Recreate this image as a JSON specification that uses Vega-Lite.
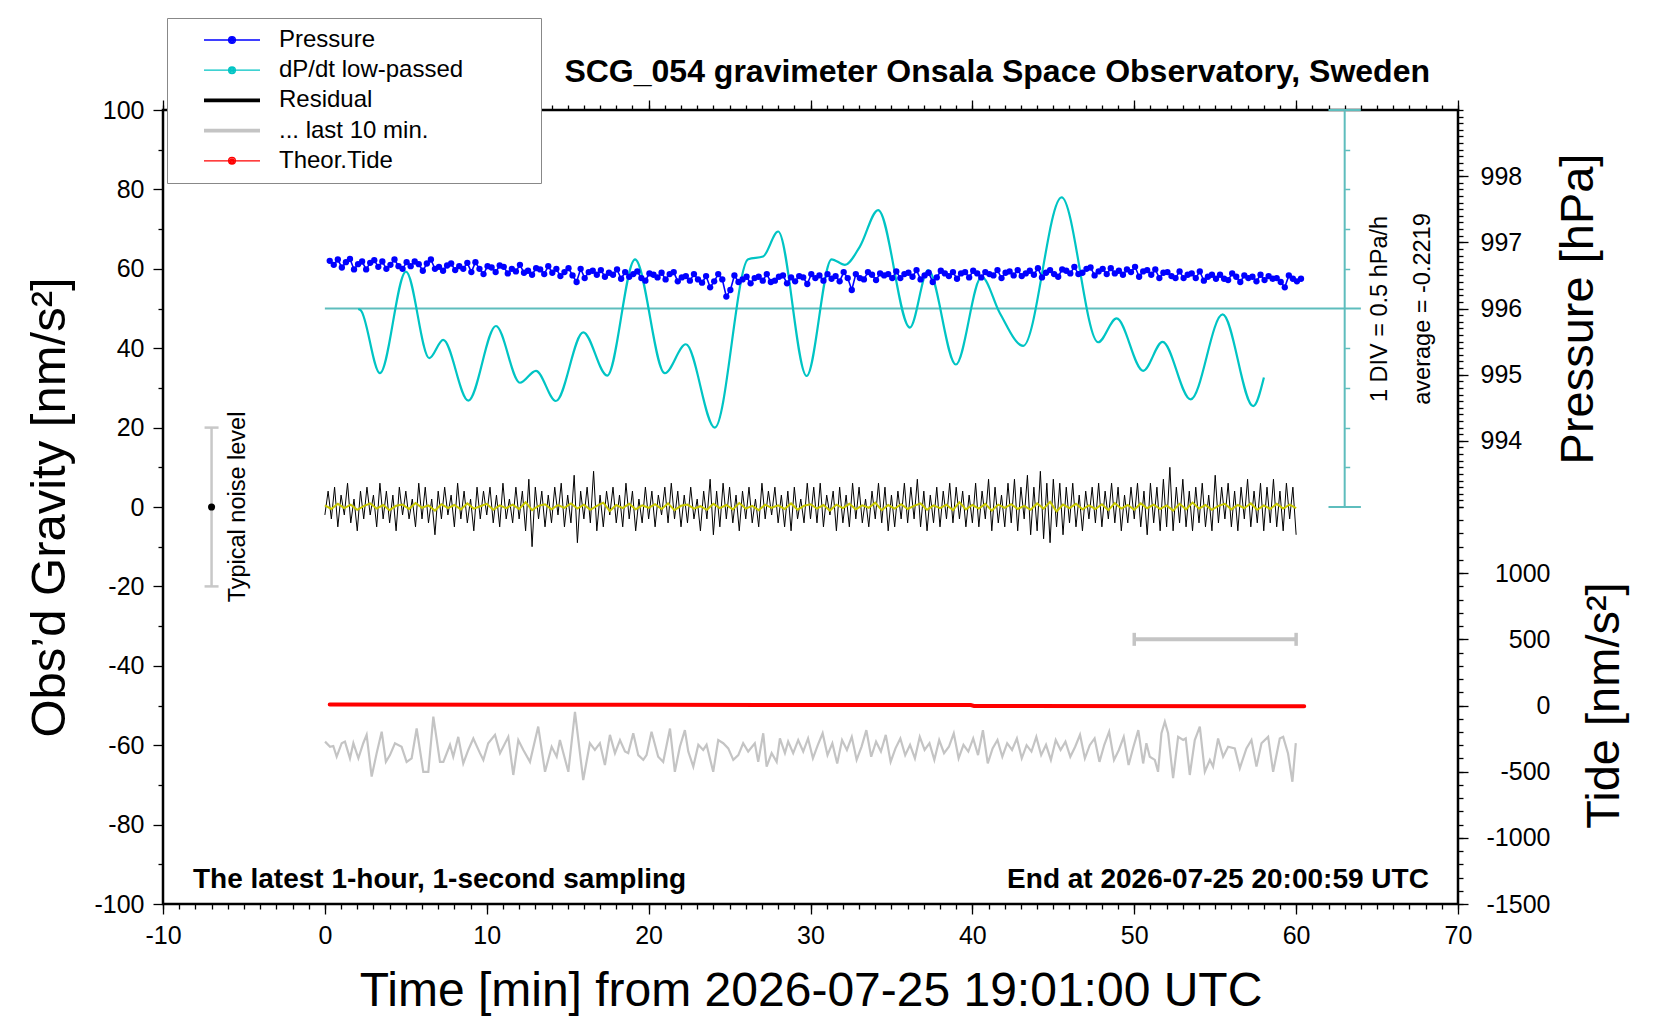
{
  "$schema": "https://vega.github.io/schema/vega-lite/v6.json",
  "width": 1295,
  "height": 794,
  "autosize": {"type": "none"},
  "padding": {"left": 163, "top": 110, "right": 202, "bottom": 116},
  "background": "white",
  "title": {
    "text": "SCG_054 gravimeter Onsala Space Observatory, Sweden",
    "anchor": "end",
    "frame": "group",
    "dx": -28,
    "offset": -96,
    "baseline": "alphabetic",
    "font": "Liberation Sans",
    "fontSize": 32,
    "fontWeight": "bold",
    "color": "black"
  },
  "datasets": {
    "pressure": [
      {"t":0.3,"p":996.72},{"t":0.55,"p":996.66},{"t":0.8,"p":996.74},{"t":1.05,"p":996.62},{"t":1.3,"p":996.70},{"t":1.55,"p":996.75},{"t":1.8,"p":996.59},{"t":2.05,"p":996.67},{"t":2.3,"p":996.71},{"t":2.55,"p":996.59},
      {"t":2.8,"p":996.69},{"t":3.05,"p":996.73},{"t":3.3,"p":996.63},{"t":3.55,"p":996.71},{"t":3.8,"p":996.60},{"t":4.05,"p":996.66},{"t":4.3,"p":996.74},{"t":4.55,"p":996.64},{"t":4.8,"p":996.60},{"t":5.05,"p":996.70},
      {"t":5.3,"p":996.64},{"t":5.55,"p":996.71},{"t":5.8,"p":996.67},{"t":6.05,"p":996.57},{"t":6.3,"p":996.68},{"t":6.55,"p":996.74},{"t":6.8,"p":996.60},{"t":7.05,"p":996.63},{"t":7.3,"p":996.57},{"t":7.55,"p":996.65},
      {"t":7.8,"p":996.68},{"t":8.05,"p":996.58},{"t":8.3,"p":996.64},{"t":8.55,"p":996.60},{"t":8.8,"p":996.69},{"t":9.05,"p":996.55},{"t":9.3,"p":996.70},{"t":9.55,"p":996.60},{"t":9.8,"p":996.52},{"t":10.05,"p":996.64},
      {"t":10.3,"p":996.62},{"t":10.55,"p":996.55},{"t":10.8,"p":996.65},{"t":11.05,"p":996.63},{"t":11.3,"p":996.53},{"t":11.55,"p":996.60},{"t":11.8,"p":996.56},{"t":12.05,"p":996.66},{"t":12.3,"p":996.54},{"t":12.55,"p":996.57},
      {"t":12.8,"p":996.51},{"t":13.05,"p":996.61},{"t":13.3,"p":996.59},{"t":13.55,"p":996.52},{"t":13.8,"p":996.64},{"t":14.05,"p":996.54},{"t":14.3,"p":996.60},{"t":14.55,"p":996.49},{"t":14.8,"p":996.55},{"t":15.05,"p":996.61},
      {"t":15.3,"p":996.50},{"t":15.55,"p":996.40},{"t":15.8,"p":996.60},{"t":16.05,"p":996.46},{"t":16.3,"p":996.55},{"t":16.55,"p":996.57},{"t":16.8,"p":996.51},{"t":17.05,"p":996.58},{"t":17.3,"p":996.48},{"t":17.55,"p":996.54},
      {"t":17.8,"p":996.51},{"t":18.05,"p":996.59},{"t":18.3,"p":996.45},{"t":18.55,"p":996.55},{"t":18.8,"p":996.48},{"t":19.05,"p":996.52},{"t":19.3,"p":996.56},{"t":19.55,"p":996.46},{"t":19.8,"p":996.42},{"t":20.05,"p":996.53},
      {"t":20.3,"p":996.51},{"t":20.55,"p":996.47},{"t":20.8,"p":996.54},{"t":21.05,"p":996.44},{"t":21.3,"p":996.52},{"t":21.55,"p":996.55},{"t":21.8,"p":996.41},{"t":22.05,"p":996.47},{"t":22.3,"p":996.49},{"t":22.55,"p":996.42},
      {"t":22.8,"p":996.52},{"t":23.05,"p":996.44},{"t":23.3,"p":996.39},{"t":23.55,"p":996.49},{"t":23.8,"p":996.32},{"t":24.05,"p":996.41},{"t":24.3,"p":996.52},{"t":24.55,"p":996.44},{"t":24.8,"p":996.18},{"t":25.05,"p":996.28},
      {"t":25.3,"p":996.50},{"t":25.55,"p":996.40},{"t":25.8,"p":996.44},{"t":26.05,"p":996.48},{"t":26.3,"p":996.38},{"t":26.55,"p":996.46},{"t":26.8,"p":996.48},{"t":27.05,"p":996.42},{"t":27.3,"p":996.52},{"t":27.55,"p":996.40},
      {"t":27.8,"p":996.42},{"t":28.05,"p":996.48},{"t":28.3,"p":996.50},{"t":28.55,"p":996.38},{"t":28.8,"p":996.47},{"t":29.05,"p":996.41},{"t":29.3,"p":996.49},{"t":29.55,"p":996.47},{"t":29.8,"p":996.37},{"t":30.05,"p":996.52},
      {"t":30.3,"p":996.46},{"t":30.55,"p":996.50},{"t":30.8,"p":996.42},{"t":31.05,"p":996.52},{"t":31.3,"p":996.45},{"t":31.55,"p":996.49},{"t":31.8,"p":996.41},{"t":32.05,"p":996.55},{"t":32.3,"p":996.46},{"t":32.55,"p":996.28},
      {"t":32.8,"p":996.52},{"t":33.05,"p":996.46},{"t":33.3,"p":996.44},{"t":33.55,"p":996.55},{"t":33.8,"p":996.51},{"t":34.05,"p":996.43},{"t":34.3,"p":996.53},{"t":34.55,"p":996.50},{"t":34.8,"p":996.52},{"t":35.05,"p":996.46},
      {"t":35.3,"p":996.56},{"t":35.55,"p":996.46},{"t":35.8,"p":996.52},{"t":36.05,"p":996.54},{"t":36.3,"p":996.48},{"t":36.55,"p":996.58},{"t":36.8,"p":996.44},{"t":37.05,"p":996.50},{"t":37.3,"p":996.54},{"t":37.55,"p":996.40},
      {"t":37.8,"p":996.47},{"t":38.05,"p":996.57},{"t":38.3,"p":996.53},{"t":38.55,"p":996.49},{"t":38.8,"p":996.55},{"t":39.05,"p":996.45},{"t":39.3,"p":996.53},{"t":39.55,"p":996.55},{"t":39.8,"p":996.47},{"t":40.05,"p":996.57},
      {"t":40.3,"p":996.53},{"t":40.55,"p":996.47},{"t":40.8,"p":996.55},{"t":41.05,"p":996.52},{"t":41.3,"p":996.50},{"t":41.55,"p":996.58},{"t":41.8,"p":996.46},{"t":42.05,"p":996.54},{"t":42.3,"p":996.56},{"t":42.55,"p":996.50},
      {"t":42.8,"p":996.58},{"t":43.05,"p":996.49},{"t":43.3,"p":996.53},{"t":43.55,"p":996.57},{"t":43.8,"p":996.51},{"t":44.05,"p":996.61},{"t":44.3,"p":996.47},{"t":44.55,"p":996.54},{"t":44.8,"p":996.58},{"t":45.05,"p":996.52},
      {"t":45.3,"p":996.48},{"t":45.55,"p":996.59},{"t":45.8,"p":996.57},{"t":46.05,"p":996.53},{"t":46.3,"p":996.63},{"t":46.55,"p":996.52},{"t":46.8,"p":996.54},{"t":47.05,"p":996.60},{"t":47.3,"p":996.62},{"t":47.55,"p":996.50},
      {"t":47.8,"p":996.56},{"t":48.05,"p":996.60},{"t":48.3,"p":996.52},{"t":48.55,"p":996.61},{"t":48.8,"p":996.53},{"t":49.05,"p":996.57},{"t":49.3,"p":996.51},{"t":49.55,"p":996.59},{"t":49.8,"p":996.55},{"t":50.05,"p":996.63},
      {"t":50.3,"p":996.48},{"t":50.55,"p":996.56},{"t":50.8,"p":996.58},{"t":51.05,"p":996.51},{"t":51.3,"p":996.59},{"t":51.55,"p":996.46},{"t":51.8,"p":996.54},{"t":52.05,"p":996.55},{"t":52.3,"p":996.49},{"t":52.55,"p":996.46},
      {"t":52.8,"p":996.56},{"t":53.05,"p":996.46},{"t":53.3,"p":996.51},{"t":53.55,"p":996.53},{"t":53.8,"p":996.46},{"t":54.05,"p":996.56},{"t":54.3,"p":996.42},{"t":54.55,"p":996.48},{"t":54.8,"p":996.51},{"t":55.05,"p":996.45},
      {"t":55.3,"p":996.51},{"t":55.55,"p":996.45},{"t":55.8,"p":996.43},{"t":56.05,"p":996.53},{"t":56.3,"p":996.48},{"t":56.55,"p":996.40},{"t":56.8,"p":996.50},{"t":57.05,"p":996.46},{"t":57.3,"p":996.48},{"t":57.55,"p":996.41},
      {"t":57.8,"p":996.51},{"t":58.05,"p":996.43},{"t":58.3,"p":996.49},{"t":58.55,"p":996.45},{"t":58.8,"p":996.46},{"t":59.05,"p":996.40},{"t":59.3,"p":996.32},{"t":59.55,"p":996.50},{"t":59.8,"p":996.45},{"t":60.05,"p":996.41},
      {"t":60.3,"p":996.45}
    ],
    "residual": [
      {"t":0.0,"g":-2},{"t":0.2,"g":4},{"t":0.4,"g":-3},{"t":0.6,"g":5},{"t":0.8,"g":-5},{"t":1.0,"g":3},{"t":1.2,"g":-2},{"t":1.4,"g":6},{"t":1.6,"g":-4},{"t":1.8,"g":2},
      {"t":2.0,"g":-6},{"t":2.2,"g":4},{"t":2.4,"g":-3},{"t":2.6,"g":5},{"t":2.8,"g":-2},{"t":3.0,"g":3},{"t":3.2,"g":-5},{"t":3.4,"g":6},{"t":3.6,"g":-3},{"t":3.8,"g":4},
      {"t":4.0,"g":-4},{"t":4.2,"g":3},{"t":4.4,"g":-6},{"t":4.6,"g":5},{"t":4.8,"g":-2},{"t":5.0,"g":4},{"t":5.2,"g":-3},{"t":5.4,"g":2},{"t":5.6,"g":-5},{"t":5.8,"g":6},
      {"t":6.0,"g":-3},{"t":6.2,"g":5},{"t":6.4,"g":-4},{"t":6.6,"g":2},{"t":6.8,"g":-7},{"t":7.0,"g":4},{"t":7.2,"g":-3},{"t":7.4,"g":5},{"t":7.6,"g":-2},{"t":7.8,"g":3},
      {"t":8.0,"g":-5},{"t":8.2,"g":6},{"t":8.4,"g":-3},{"t":8.6,"g":4},{"t":8.8,"g":-4},{"t":9.0,"g":2},{"t":9.2,"g":-6},{"t":9.4,"g":5},{"t":9.6,"g":-3},{"t":9.8,"g":4},
      {"t":10.0,"g":-2},{"t":10.2,"g":5},{"t":10.4,"g":-4},{"t":10.6,"g":3},{"t":10.8,"g":-5},{"t":11.0,"g":6},{"t":11.2,"g":-3},{"t":11.4,"g":2},{"t":11.6,"g":-4},{"t":11.8,"g":5},
      {"t":12.0,"g":-3},{"t":12.2,"g":4},{"t":12.4,"g":-6},{"t":12.6,"g":7},{"t":12.8,"g":-10},{"t":13.0,"g":5},{"t":13.2,"g":-3},{"t":13.4,"g":4},{"t":13.6,"g":-5},{"t":13.8,"g":3},
      {"t":14.0,"g":-4},{"t":14.2,"g":5},{"t":14.4,"g":-2},{"t":14.6,"g":6},{"t":14.8,"g":-5},{"t":15.0,"g":3},{"t":15.2,"g":-4},{"t":15.4,"g":8},{"t":15.6,"g":-9},{"t":15.8,"g":4},
      {"t":16.0,"g":-3},{"t":16.2,"g":5},{"t":16.4,"g":-4},{"t":16.6,"g":9},{"t":16.8,"g":-6},{"t":17.0,"g":3},{"t":17.2,"g":-5},{"t":17.4,"g":4},{"t":17.6,"g":-2},{"t":17.8,"g":5},
      {"t":18.0,"g":-4},{"t":18.2,"g":3},{"t":18.4,"g":-5},{"t":18.6,"g":6},{"t":18.8,"g":-3},{"t":19.0,"g":4},{"t":19.2,"g":-6},{"t":19.4,"g":2},{"t":19.6,"g":-4},{"t":19.8,"g":5},
      {"t":20.0,"g":-3},{"t":20.2,"g":4},{"t":20.4,"g":-5},{"t":20.6,"g":3},{"t":20.8,"g":-2},{"t":21.0,"g":5},{"t":21.2,"g":-4},{"t":21.4,"g":6},{"t":21.6,"g":-3},{"t":21.8,"g":4},
      {"t":22.0,"g":-5},{"t":22.2,"g":3},{"t":22.4,"g":-4},{"t":22.6,"g":5},{"t":22.8,"g":-3},{"t":23.0,"g":2},{"t":23.2,"g":-6},{"t":23.4,"g":4},{"t":23.6,"g":-3},{"t":23.8,"g":7},
      {"t":24.0,"g":-7},{"t":24.2,"g":4},{"t":24.4,"g":-5},{"t":24.6,"g":6},{"t":24.8,"g":-3},{"t":25.0,"g":5},{"t":25.2,"g":-4},{"t":25.4,"g":3},{"t":25.6,"g":-6},{"t":25.8,"g":4},
      {"t":26.0,"g":-3},{"t":26.2,"g":5},{"t":26.4,"g":-4},{"t":26.6,"g":2},{"t":26.8,"g":-5},{"t":27.0,"g":6},{"t":27.2,"g":-3},{"t":27.4,"g":4},{"t":27.6,"g":-2},{"t":27.8,"g":5},
      {"t":28.0,"g":-4},{"t":28.2,"g":3},{"t":28.4,"g":-5},{"t":28.6,"g":4},{"t":28.8,"g":-6},{"t":29.0,"g":5},{"t":29.2,"g":-3},{"t":29.4,"g":2},{"t":29.6,"g":-4},{"t":29.8,"g":6},
      {"t":30.0,"g":-3},{"t":30.2,"g":5},{"t":30.4,"g":-4},{"t":30.6,"g":6},{"t":30.8,"g":-5},{"t":31.0,"g":3},{"t":31.2,"g":-2},{"t":31.4,"g":4},{"t":31.6,"g":-6},{"t":31.8,"g":5},
      {"t":32.0,"g":-4},{"t":32.2,"g":3},{"t":32.4,"g":-5},{"t":32.6,"g":6},{"t":32.8,"g":-3},{"t":33.0,"g":5},{"t":33.2,"g":-4},{"t":33.4,"g":2},{"t":33.6,"g":-5},{"t":33.8,"g":4},
      {"t":34.0,"g":-3},{"t":34.2,"g":6},{"t":34.4,"g":-4},{"t":34.6,"g":5},{"t":34.8,"g":-6},{"t":35.0,"g":3},{"t":35.2,"g":-5},{"t":35.4,"g":4},{"t":35.6,"g":-3},{"t":35.8,"g":6},
      {"t":36.0,"g":-4},{"t":36.2,"g":5},{"t":36.4,"g":-3},{"t":36.6,"g":7},{"t":36.8,"g":-5},{"t":37.0,"g":4},{"t":37.2,"g":-6},{"t":37.4,"g":3},{"t":37.6,"g":-4},{"t":37.8,"g":5},
      {"t":38.0,"g":-5},{"t":38.2,"g":4},{"t":38.4,"g":-3},{"t":38.6,"g":6},{"t":38.8,"g":-4},{"t":39.0,"g":5},{"t":39.2,"g":-3},{"t":39.4,"g":4},{"t":39.6,"g":-5},{"t":39.8,"g":3},
      {"t":40.0,"g":-4},{"t":40.2,"g":6},{"t":40.4,"g":-5},{"t":40.6,"g":4},{"t":40.8,"g":-3},{"t":41.0,"g":7},{"t":41.2,"g":-6},{"t":41.4,"g":5},{"t":41.6,"g":-4},{"t":41.8,"g":3},
      {"t":42.0,"g":-5},{"t":42.2,"g":6},{"t":42.4,"g":-4},{"t":42.6,"g":7},{"t":42.8,"g":-6},{"t":43.0,"g":5},{"t":43.2,"g":-3},{"t":43.4,"g":8},{"t":43.6,"g":-7},{"t":43.8,"g":5},
      {"t":44.0,"g":-6},{"t":44.2,"g":9},{"t":44.4,"g":-8},{"t":44.6,"g":6},{"t":44.8,"g":-9},{"t":45.0,"g":7},{"t":45.2,"g":-5},{"t":45.4,"g":6},{"t":45.6,"g":-7},{"t":45.8,"g":5},
      {"t":46.0,"g":-4},{"t":46.2,"g":6},{"t":46.4,"g":-5},{"t":46.6,"g":3},{"t":46.8,"g":-6},{"t":47.0,"g":4},{"t":47.2,"g":-3},{"t":47.4,"g":5},{"t":47.6,"g":-4},{"t":47.8,"g":6},
      {"t":48.0,"g":-5},{"t":48.2,"g":4},{"t":48.4,"g":-3},{"t":48.6,"g":6},{"t":48.8,"g":-4},{"t":49.0,"g":5},{"t":49.2,"g":-6},{"t":49.4,"g":3},{"t":49.6,"g":-4},{"t":49.8,"g":5},
      {"t":50.0,"g":-3},{"t":50.2,"g":6},{"t":50.4,"g":-5},{"t":50.6,"g":4},{"t":50.8,"g":-7},{"t":51.0,"g":6},{"t":51.2,"g":-4},{"t":51.4,"g":5},{"t":51.6,"g":-6},{"t":51.8,"g":7},
      {"t":52.0,"g":-5},{"t":52.2,"g":10},{"t":52.4,"g":-6},{"t":52.6,"g":5},{"t":52.8,"g":-4},{"t":53.0,"g":7},{"t":53.2,"g":-5},{"t":53.4,"g":4},{"t":53.6,"g":-6},{"t":53.8,"g":5},
      {"t":54.0,"g":-4},{"t":54.2,"g":6},{"t":54.4,"g":-5},{"t":54.6,"g":3},{"t":54.8,"g":-6},{"t":55.0,"g":8},{"t":55.2,"g":-4},{"t":55.4,"g":5},{"t":55.6,"g":-3},{"t":55.8,"g":6},
      {"t":56.0,"g":-5},{"t":56.2,"g":4},{"t":56.4,"g":-6},{"t":56.6,"g":5},{"t":56.8,"g":-3},{"t":57.0,"g":7},{"t":57.2,"g":-5},{"t":57.4,"g":4},{"t":57.6,"g":-4},{"t":57.8,"g":6},
      {"t":58.0,"g":-6},{"t":58.2,"g":5},{"t":58.4,"g":-4},{"t":58.6,"g":7},{"t":58.8,"g":-5},{"t":59.0,"g":4},{"t":59.2,"g":-6},{"t":59.4,"g":6},{"t":59.6,"g":-3},{"t":59.8,"g":5},
      {"t":60.0,"g":-7}
    ],
    "smooth": [
      {"t":0,"g":0.4},{"t":0.4,"g":-0.5},{"t":0.8,"g":0.8},{"t":1.2,"g":-0.3},{"t":1.6,"g":0.6},{"t":2,"g":-0.7},{"t":2.4,"g":0.2},{"t":2.8,"g":0.9},{"t":3.2,"g":-0.4},{"t":3.6,"g":0.5},
      {"t":4,"g":-0.8},{"t":4.4,"g":0.3},{"t":4.8,"g":0.6},{"t":5.2,"g":-0.5},{"t":5.6,"g":1.0},{"t":6,"g":-0.2},{"t":6.4,"g":0.4},{"t":6.8,"g":-0.9},{"t":7.2,"g":0.7},{"t":7.6,"g":-0.3},
      {"t":8,"g":0.5},{"t":8.4,"g":-0.6},{"t":8.8,"g":0.9},{"t":9.2,"g":-0.4},{"t":9.6,"g":0.2},{"t":10,"g":0.8},{"t":10.4,"g":-0.7},{"t":10.8,"g":0.4},{"t":11.2,"g":-0.3},{"t":11.6,"g":0.6},
      {"t":12,"g":-0.5},{"t":12.4,"g":1.2},{"t":12.8,"g":-0.8},{"t":13.2,"g":0.3},{"t":13.6,"g":0.7},{"t":14,"g":-0.6},{"t":14.4,"g":0.5},{"t":14.8,"g":-0.2},{"t":15.2,"g":0.9},{"t":15.6,"g":-0.4},
      {"t":16,"g":0.6},{"t":16.4,"g":-0.7},{"t":16.8,"g":0.3},{"t":17.2,"g":1.1},{"t":17.6,"g":-1.0},{"t":18,"g":0.5},{"t":18.4,"g":-0.3},{"t":18.8,"g":0.8},{"t":19.2,"g":-0.6},{"t":19.6,"g":0.4},
      {"t":20,"g":-0.2},{"t":20.4,"g":0.7},{"t":20.8,"g":-0.5},{"t":21.2,"g":0.9},{"t":21.6,"g":-0.8},{"t":22,"g":0.3},{"t":22.4,"g":0.6},{"t":22.8,"g":-0.4},{"t":23.2,"g":0.2},{"t":23.6,"g":-0.7},
      {"t":24,"g":0.8},{"t":24.4,"g":-0.3},{"t":24.8,"g":0.5},{"t":25.2,"g":-0.6},{"t":25.6,"g":1.0},{"t":26,"g":-0.4},{"t":26.4,"g":0.3},{"t":26.8,"g":-0.8},{"t":27.2,"g":0.6},{"t":27.6,"g":-0.2},
      {"t":28,"g":0.4},{"t":28.4,"g":-0.5},{"t":28.8,"g":0.9},{"t":29.2,"g":-0.7},{"t":29.6,"g":0.3},{"t":30,"g":0.7},{"t":30.4,"g":-0.4},{"t":30.8,"g":0.5},{"t":31.2,"g":-0.9},{"t":31.6,"g":0.6},
      {"t":32,"g":-0.3},{"t":32.4,"g":0.8},{"t":32.8,"g":-0.6},{"t":33.2,"g":0.4},{"t":33.6,"g":-0.2},{"t":34,"g":1.1},{"t":34.4,"g":-0.8},{"t":34.8,"g":0.5},{"t":35.2,"g":-0.4},{"t":35.6,"g":0.7},
      {"t":36,"g":-0.5},{"t":36.4,"g":0.3},{"t":36.8,"g":0.9},{"t":37.2,"g":-0.7},{"t":37.6,"g":0.4},{"t":38,"g":-0.3},{"t":38.4,"g":0.6},{"t":38.8,"g":-0.8},{"t":39.2,"g":1.2},{"t":39.6,"g":-0.6},
      {"t":40,"g":0.5},{"t":40.4,"g":-0.4},{"t":40.8,"g":0.8},{"t":41.2,"g":-0.9},{"t":41.6,"g":0.6},{"t":42,"g":-0.2},{"t":42.4,"g":0.7},{"t":42.8,"g":-0.5},{"t":43.2,"g":0.3},{"t":43.6,"g":-0.7},
      {"t":44,"g":0.9},{"t":44.4,"g":-0.4},{"t":44.8,"g":1.3},{"t":45.2,"g":-1.1},{"t":45.6,"g":0.6},{"t":46,"g":-0.3},{"t":46.4,"g":0.8},{"t":46.8,"g":-0.6},{"t":47.2,"g":0.4},{"t":47.6,"g":-0.5},
      {"t":48,"g":0.7},{"t":48.4,"g":-0.8},{"t":48.8,"g":1.0},{"t":49.2,"g":-0.4},{"t":49.6,"g":0.5},{"t":50,"g":-0.7},{"t":50.4,"g":0.9},{"t":50.8,"g":-0.3},{"t":51.2,"g":0.6},{"t":51.6,"g":-0.5},
      {"t":52,"g":0.4},{"t":52.4,"g":-0.9},{"t":52.8,"g":0.8},{"t":53.2,"g":-0.6},{"t":53.6,"g":1.1},{"t":54,"g":-0.4},{"t":54.4,"g":0.5},{"t":54.8,"g":-0.7},{"t":55.2,"g":0.3},{"t":55.6,"g":0.8},
      {"t":56,"g":-0.6},{"t":56.4,"g":0.5},{"t":56.8,"g":-0.3},{"t":57.2,"g":0.9},{"t":57.6,"g":-0.7},{"t":58,"g":0.4},{"t":58.4,"g":-0.5},{"t":58.8,"g":0.8},{"t":59.2,"g":-0.4},{"t":59.6,"g":0.6},
      {"t":60,"g":-0.3}
    ],
    "last10": [
      {"t":0.01,"g":-59.1},{"t":0.32,"g":-60.4},{"t":0.52,"g":-60.2},{"t":0.73,"g":-62.9},{"t":1.04,"g":-59.5},{"t":1.24,"g":-59.1},{"t":1.55,"g":-63.3},{"t":1.76,"g":-59.5},{"t":2.07,"g":-63.3},{"t":2.37,"g":-59.5},
      {"t":2.58,"g":-57.4},{"t":2.89,"g":-67.9},{"t":3.2,"g":-62.0},{"t":3.51,"g":-56.6},{"t":3.77,"g":-64.2},{"t":4.02,"g":-62.5},{"t":4.33,"g":-59.5},{"t":4.74,"g":-60.4},{"t":5.05,"g":-64.2},{"t":5.36,"g":-63.3},
      {"t":5.67,"g":-55.8},{"t":6.08,"g":-66.7},{"t":6.39,"g":-66.7},{"t":6.7,"g":-52.8},{"t":7.11,"g":-64.2},{"t":7.32,"g":-64.2},{"t":7.73,"g":-59.9},{"t":7.93,"g":-62.9},{"t":8.24,"g":-57.9},{"t":8.55,"g":-64.6},
      {"t":8.86,"g":-61.2},{"t":9.17,"g":-58.3},{"t":9.58,"g":-62.0},{"t":9.79,"g":-63.7},{"t":10.09,"g":-59.5},{"t":10.51,"g":-57.4},{"t":10.82,"g":-62.0},{"t":11.33,"g":-57.9},{"t":11.64,"g":-67.5},{"t":11.95,"g":-58.7},
      {"t":12.26,"g":-61.2},{"t":12.67,"g":-64.2},{"t":13.18,"g":-55.3},{"t":13.6,"g":-66.7},{"t":14.01,"g":-60.4},{"t":14.32,"g":-62.9},{"t":14.52,"g":-58.7},{"t":15.04,"g":-66.7},{"t":15.45,"g":-51.6},{"t":15.96,"g":-68.8},
      {"t":16.37,"g":-59.5},{"t":16.68,"g":-61.2},{"t":16.99,"g":-59.5},{"t":17.3,"g":-65.0},{"t":17.61,"g":-57.4},{"t":17.92,"g":-62.0},{"t":18.23,"g":-58.7},{"t":18.54,"g":-61.6},{"t":18.74,"g":-62.0},{"t":19.05,"g":-57.0},
      {"t":19.36,"g":-62.5},{"t":19.67,"g":-63.7},{"t":19.87,"g":-62.5},{"t":20.18,"g":-56.6},{"t":20.59,"g":-62.9},{"t":20.9,"g":-64.2},{"t":21.32,"g":-55.8},{"t":21.62,"g":-66.7},{"t":21.93,"g":-60.4},{"t":22.24,"g":-56.2},
      {"t":22.45,"g":-61.6},{"t":22.76,"g":-65.4},{"t":23.07,"g":-59.9},{"t":23.37,"g":-61.2},{"t":23.58,"g":-59.9},{"t":23.99,"g":-66.7},{"t":24.3,"g":-58.7},{"t":24.61,"g":-59.5},{"t":24.92,"g":-60.8},{"t":25.23,"g":-63.7},
      {"t":25.54,"g":-62.5},{"t":25.84,"g":-59.5},{"t":26.15,"g":-61.6},{"t":26.56,"g":-59.5},{"t":26.77,"g":-64.2},{"t":27.08,"g":-57.0},{"t":27.29,"g":-65.4},{"t":27.6,"g":-62.0},{"t":27.91,"g":-64.2},{"t":28.11,"g":-58.3},
      {"t":28.42,"g":-62.0},{"t":28.62,"g":-59.1},{"t":28.93,"g":-62.0},{"t":29.24,"g":-58.7},{"t":29.55,"g":-61.6},{"t":29.85,"g":-58.3},{"t":30.15,"g":-63.3},{"t":30.45,"g":-60.0},{"t":30.75,"g":-57.0},{"t":31.05,"g":-62.5},
      {"t":31.35,"g":-59.5},{"t":31.65,"g":-64.6},{"t":31.95,"g":-58.7},{"t":32.25,"g":-61.2},{"t":32.55,"g":-57.9},{"t":32.85,"g":-63.7},{"t":33.15,"g":-60.4},{"t":33.45,"g":-56.2},{"t":33.75,"g":-62.9},{"t":34.05,"g":-59.1},
      {"t":34.35,"g":-61.6},{"t":34.65,"g":-57.4},{"t":34.95,"g":-64.2},{"t":35.25,"g":-60.8},{"t":35.55,"g":-58.3},{"t":35.85,"g":-62.5},{"t":36.15,"g":-59.9},{"t":36.45,"g":-63.3},{"t":36.75,"g":-57.9},{"t":37.05,"g":-61.2},
      {"t":37.35,"g":-59.5},{"t":37.65,"g":-63.7},{"t":37.95,"g":-58.7},{"t":38.25,"g":-62.0},{"t":38.55,"g":-60.4},{"t":38.85,"g":-57.0},{"t":39.15,"g":-63.3},{"t":39.45,"g":-59.9},{"t":39.75,"g":-61.6},{"t":40.05,"g":-58.3},
      {"t":40.35,"g":-62.5},{"t":40.65,"g":-56.2},{"t":40.95,"g":-64.6},{"t":41.25,"g":-60.8},{"t":41.55,"g":-58.7},{"t":41.85,"g":-62.9},{"t":42.15,"g":-59.5},{"t":42.45,"g":-61.2},{"t":42.75,"g":-58.3},{"t":43.05,"g":-63.3},
      {"t":43.35,"g":-60.0},{"t":43.65,"g":-61.6},{"t":43.95,"g":-57.9},{"t":44.25,"g":-62.5},{"t":44.55,"g":-59.9},{"t":44.85,"g":-63.7},{"t":45.15,"g":-58.7},{"t":45.45,"g":-61.2},{"t":45.75,"g":-59.1},{"t":46.05,"g":-62.9},
      {"t":46.35,"g":-60.4},{"t":46.65,"g":-57.4},{"t":46.95,"g":-63.3},{"t":47.25,"g":-60.0},{"t":47.55,"g":-58.3},{"t":47.85,"g":-64.2},{"t":48.15,"g":-59.9},{"t":48.45,"g":-56.6},{"t":48.75,"g":-63.7},{"t":49.05,"g":-61.2},
      {"t":49.35,"g":-57.9},{"t":49.65,"g":-65.0},{"t":49.95,"g":-60.4},{"t":50.25,"g":-56.2},{"t":50.55,"g":-64.6},{"t":50.75,"g":-59.5},{"t":50.96,"g":-62.9},{"t":51.27,"g":-63.7},{"t":51.47,"g":-66.7},{"t":51.68,"g":-57.0},
      {"t":51.89,"g":-54.1},{"t":52.09,"g":-57.0},{"t":52.4,"g":-68.3},{"t":52.71,"g":-57.9},{"t":53.02,"g":-58.7},{"t":53.18,"g":-58.3},{"t":53.43,"g":-67.5},{"t":53.74,"g":-58.7},{"t":54.05,"g":-55.3},{"t":54.36,"g":-66.7},
      {"t":54.67,"g":-63.7},{"t":54.87,"g":-65.4},{"t":55.18,"g":-58.3},{"t":55.49,"g":-62.9},{"t":55.8,"g":-60.4},{"t":56.21,"g":-60.8},{"t":56.52,"g":-65.8},{"t":56.93,"g":-60.8},{"t":57.24,"g":-58.7},{"t":57.55,"g":-65.4},
      {"t":57.86,"g":-59.5},{"t":58.27,"g":-57.9},{"t":58.58,"g":-66.7},{"t":58.99,"g":-58.3},{"t":59.2,"g":-57.9},{"t":59.5,"g":-62.1},{"t":59.77,"g":-69.2},{"t":59.98,"g":-59.5}
    ],
    "dpdt": [
      {"t":2.06,"v":-0.227},{"t":2.22,"v":-0.245},{"t":3.4,"v":-1.037},{"t":5.01,"v":0.243},{"t":6.45,"v":-0.847},{"t":7.31,"v":-0.617},{"t":8.86,"v":-1.382},{"t":10.57,"v":-0.442},{"t":12.05,"v":-1.157},{"t":13.04,"v":-1.007},
      {"t":14.27,"v":-1.387},{"t":15.96,"v":-0.522},{"t":17.44,"v":-1.067},{"t":19.16,"v":0.398},{"t":21.0,"v":-1.037},{"t":22.3,"v":-0.672},{"t":24.09,"v":-1.722},{"t":26.15,"v":0.398},{"t":27.07,"v":0.433},{"t":28.0,"v":0.748},
      {"t":29.76,"v":-1.072},{"t":31.3,"v":0.398},{"t":32.13,"v":0.328},{"t":33.05,"v":0.558},{"t":34.18,"v":1.018},{"t":36.14,"v":-0.462},{"t":37.27,"v":0.263},{"t":38.98,"v":-0.927},{"t":40.57,"v":0.178},{"t":41.7,"v":-0.282},
      {"t":43.14,"v":-0.692},{"t":45.51,"v":1.178},{"t":47.77,"v":-0.647},{"t":48.91,"v":-0.347},{"t":50.55,"v":-1.007},{"t":51.75,"v":-0.642},{"t":53.48,"v":-1.367},{"t":55.46,"v":-0.297},{"t":57.35,"v":-1.452},{"t":58.01,"v":-1.092}
    ]
  },
  "layer": [
    {
      "encoding": {
        "x": {
          "field": "t", "type": "quantitative",
          "scale": {"domain": [-10, 70], "nice": false, "zero": false},
          "axis": {
            "orient": "bottom",
            "values": [-10, 0, 10, 20, 30, 40, 50, 60, 70],
            "tickSize": 10,
            "labelPadding": 9,
            "labelExpr": "replace(datum.label, '\u2212', '-')",
            "title": "Time [min] from 2026-07-25 19:01:00 UTC",
            "titleFontSize": 48,
            "titleX": 647.5,
            "titleY": 101,
            "titleAlign": "center",
            "titleBaseline": "alphabetic"
          }
        },
        "y": {
          "field": "g", "type": "quantitative",
          "scale": {"domain": [-100, 100], "nice": false, "zero": false},
          "axis": {
            "orient": "left",
            "values": [-100, -80, -60, -40, -20, 0, 20, 40, 60, 80, 100],
            "tickSize": 10,
            "labelPadding": 9,
            "labelExpr": "replace(datum.label, '\u2212', '-')",
            "title": "Obs\u2019d Gravity [nm/s\u00b2]",
            "titleFontSize": 49,
            "titleX": -99,
            "titleY": 397,
            "titleAngle": 270,
            "titleAlign": "center",
            "titleBaseline": "alphabetic"
          }
        }
      },
      "layer": [
        {"data": {"name": "last10"}, "mark": {"type": "line", "color": "#c4c4c4", "strokeWidth": 2.2}},
        {"data": {"name": "residual"}, "mark": {"type": "line", "color": "black", "strokeWidth": 1}},
        {"data": {"name": "smooth"}, "mark": {"type": "line", "color": "#c8c800", "strokeWidth": 2}},
        {
          "data": {"values": [{"t": -7, "g": -20, "g2": 20}]},
          "mark": {"type": "rule", "color": "#c8c8c8", "strokeWidth": 2.5},
          "encoding": {"y2": {"field": "g2"}}
        },
        {
          "data": {"values": [{"t": -7, "g": -20}, {"t": -7, "g": 20}]},
          "mark": {"type": "tick", "orient": "horizontal", "color": "#c8c8c8", "size": 14, "thickness": 2.5, "opacity": 1}
        },
        {
          "data": {"values": [{"t": -4.94, "g": 0, "label": "Typical noise level"}]},
          "mark": {"type": "text", "angle": 270, "align": "center", "baseline": "alphabetic", "font": "Liberation Sans", "fontSize": 23.5, "color": "black"},
          "encoding": {"text": {"field": "label"}}
        },
        {
          "data": {"values": [{"t": -8.15, "g": -96, "label": "The latest 1-hour, 1-second sampling"}]},
          "mark": {"type": "text", "align": "left", "baseline": "alphabetic", "font": "Liberation Sans", "fontSize": 28, "fontWeight": "bold", "color": "black"},
          "encoding": {"text": {"field": "label"}}
        },
        {
          "data": {"values": [{"t": 68.2, "g": -96, "label": "End at 2026-07-25 20:00:59 UTC"}]},
          "mark": {"type": "text", "align": "right", "baseline": "alphabetic", "font": "Liberation Sans", "fontSize": 28, "fontWeight": "bold", "color": "black"},
          "encoding": {"text": {"field": "label"}}
        }
      ]
    },
    {
      "data": {"values": [{"t": -7, "g": 0}]},
      "mark": {"type": "point", "filled": true, "color": "black", "size": 50, "opacity": 1},
      "encoding": {
        "x": {
          "field": "t", "type": "quantitative",
          "scale": {"domain": [-10, 70], "nice": false, "zero": false},
          "axis": {
            "orient": "bottom", "tickSize": 5, "labels": false, "title": null,
            "values": [-10,-9,-8,-7,-6,-5,-4,-3,-2,-1,0,1,2,3,4,5,6,7,8,9,10,11,12,13,14,15,16,17,18,19,20,21,22,23,24,25,26,27,28,29,30,31,32,33,34,35,36,37,38,39,40,41,42,43,44,45,46,47,48,49,50,51,52,53,54,55,56,57,58,59,60,61,62,63,64,65,66,67,68,69,70]
          }
        },
        "y": {
          "field": "g", "type": "quantitative",
          "scale": {"domain": [-100, 100], "nice": false, "zero": false},
          "axis": {"orient": "left", "tickSize": 5, "labels": false, "title": null, "values": [-90, -70, -50, -30, -10, 10, 30, 50, 70, 90]}
        }
      }
    },
    {
      "encoding": {
        "x": {"field": "t", "type": "quantitative", "scale": {"domain": [-10, 70], "nice": false, "zero": false}, "axis": null},
        "y": {
          "field": "v", "type": "quantitative",
          "scale": {"domain": [-7.7219, 2.2781], "nice": false, "zero": false},
          "axis": {
            "orient": "right",
            "offset": -113.3,
            "values": [-2.2219, -1.7219, -1.2219, -0.7219, 0.2781, 0.7781, 1.2781, 1.7781],
            "tickSize": 5,
            "tickColor": "#5ebdbd",
            "tickWidth": 1.5,
            "labels": false,
            "title": ["1 DIV = 0.5 hPa/h", "average = -0.2219"],
            "titleFontSize": 23.5,
            "titleLineHeight": 43,
            "titleAngle": 270,
            "titleX": 42,
            "titleY": 198.5,
            "titleAlign": "center",
            "titleBaseline": "alphabetic"
          }
        }
      },
      "layer": [
        {
          "data": {"values": [{"t": 0, "t2": 64, "v": -0.2219}, {"t": 62, "t2": 64, "v": -2.7219}, {"t": 62, "t2": 64, "v": 2.2781}]},
          "mark": {"type": "rule", "color": "#5ebdbd", "strokeWidth": 2},
          "encoding": {"x2": {"field": "t2"}}
        },
        {
          "data": {"values": [{"t": 63, "v": -2.7219, "v2": 2.2781}]},
          "mark": {"type": "rule", "color": "#5ebdbd", "strokeWidth": 2},
          "encoding": {"y2": {"field": "v2"}}
        },
        {"data": {"name": "dpdt"}, "mark": {"type": "line", "color": "#00c4c4", "strokeWidth": 2.2, "interpolate": "monotone"}}
      ]
    },
    {
      "data": {"name": "pressure"},
      "mark": {"type": "line", "color": "#0000ff", "strokeWidth": 1.6},
      "encoding": {
        "x": {
          "field": "t", "type": "quantitative",
          "scale": {"domain": [-10, 70], "nice": false, "zero": false},
          "axis": {
            "orient": "top", "tickSize": 5, "labels": false, "title": null,
            "values": [-10,-9,-8,-7,-6,-5,-4,-3,-2,-1,0,1,2,3,4,5,6,7,8,9,10,11,12,13,14,15,16,17,18,19,20,21,22,23,24,25,26,27,28,29,30,31,32,33,34,35,36,37,38,39,40,41,42,43,44,45,46,47,48,49,50,51,52,53,54,55,56,57,58,59,60,61,62,63,64,65,66,67,68,69,70]
          }
        },
        "y": {
          "field": "p", "type": "quantitative",
          "scale": {"domain": [987, 999], "nice": false, "zero": false},
          "axis": {
            "orient": "right", "tickSize": 5, "labels": false, "title": null,
            "values": [993,993.1,993.2,993.3,993.4,993.5,993.6,993.7,993.8,993.9,994,994.1,994.2,994.3,994.4,994.5,994.6,994.7,994.8,994.9,995,995.1,995.2,995.3,995.4,995.5,995.6,995.7,995.8,995.9,996,996.1,996.2,996.3,996.4,996.5,996.6,996.7,996.8,996.9,997,997.1,997.2,997.3,997.4,997.5,997.6,997.7,997.8,997.9,998,998.1,998.2,998.3,998.4,998.5,998.6,998.7,998.8,998.9,999]
          }
        }
      }
    },
    {
      "data": {"name": "pressure"},
      "mark": {"type": "circle", "color": "#0000ff", "size": 40, "opacity": 1},
      "encoding": {
        "x": {
          "field": "t", "type": "quantitative",
          "scale": {"domain": [-10, 70], "nice": false, "zero": false},
          "axis": {"orient": "top", "tickSize": 10, "labels": false, "title": null, "values": [-10, 0, 10, 20, 30, 40, 50, 60, 70]}
        },
        "y": {
          "field": "p", "type": "quantitative",
          "scale": {"domain": [987, 999], "nice": false, "zero": false},
          "axis": {
            "orient": "right",
            "values": [994, 995, 996, 997, 998],
            "tickSize": 10,
            "labelPadding": 12,
            "title": "Pressure [hPa]",
            "titleAngle": 270,
            "titleX": 134,
            "titleY": 198.5,
            "titleAlign": "center",
            "titleBaseline": "alphabetic"
          }
        }
      }
    },
    {
      "data": {"values": [{"t": 0.3, "tide": 8}, {"t": 20, "tide": 5}, {"t": 39.9, "tide": 3}, {"t": 40.1, "tide": -3}, {"t": 60.5, "tide": -6}]},
      "mark": {"type": "line", "color": "#ff0000", "strokeWidth": 4, "strokeCap": "round"},
      "encoding": {
        "x": {"field": "t", "type": "quantitative", "scale": {"domain": [-10, 70], "nice": false, "zero": false}, "axis": null},
        "y": {
          "field": "tide", "type": "quantitative",
          "scale": {"domain": [-1500, 4500], "nice": false, "zero": false},
          "axis": {
            "orient": "right",
            "values": [-1500, -1000, -500, 0, 500, 1000],
            "format": "d",
            "tickSize": 10,
            "labelAlign": "right",
            "labelPadding": 82,
            "labelExpr": "replace(datum.label, '\u2212', '-')",
            "title": "Tide [nm/s\u00b2]",
            "titleAngle": 270,
            "titleX": 160,
            "titleY": 595,
            "titleAlign": "center",
            "titleBaseline": "alphabetic"
          }
        }
      }
    },
    {
      "encoding": {
        "x": {"field": "t", "type": "quantitative", "scale": {"domain": [-10, 70], "nice": false, "zero": false}, "axis": null},
        "y": {
          "field": "tide", "type": "quantitative",
          "scale": {"domain": [-1500, 4500], "nice": false, "zero": false},
          "axis": {
            "orient": "right", "tickSize": 5, "labels": false, "title": null,
            "values": [-1500,-1400,-1300,-1200,-1100,-1000,-900,-800,-700,-600,-500,-400,-300,-200,-100,0,100,200,300,400,500,600,700,800,900,1000,1100,1200,1300,1400,1500]
          }
        }
      },
      "layer": [
        {
          "data": {"values": [{"t": 50, "t2": 60, "tide": 500}]},
          "mark": {"type": "rule", "color": "#c4c4c4", "strokeWidth": 4},
          "encoding": {"x2": {"field": "t2"}}
        },
        {
          "data": {"values": [{"t": 50, "tide": 500}, {"t": 60, "tide": 500}]},
          "mark": {"type": "tick", "orient": "vertical", "color": "#c4c4c4", "size": 13, "thickness": 3.5, "opacity": 1}
        }
      ]
    },
    {
      "data": {"values": [{"series": "Pressure"}, {"series": "dP/dt low-passed"}, {"series": "Residual"}, {"series": "... last 10 min."}, {"series": "Theor.Tide"}]},
      "transform": [{"filter": "datum.series == 'none'"}],
      "mark": {"type": "point", "filled": false, "opacity": 1},
      "encoding": {
        "color": {
          "field": "series", "type": "nominal",
          "scale": {
            "domain": ["Pressure", "dP/dt low-passed", "Residual", "... last 10 min.", "Theor.Tide"],
            "range": ["#0000ff", "#00c4c4", "#000000", "#c4c4c4", "#ff0000"]
          },
          "legend": {"title": null, "orient": "none", "legendX": 4, "legendY": -92}
        },
        "shape": {
          "field": "series", "type": "nominal",
          "scale": {
            "domain": ["Pressure", "dP/dt low-passed", "Residual", "... last 10 min.", "Theor.Tide"],
            "range": [
              "M-7,0H7M-0.85,0A0.85,0.85,0,1,0,0.85,0A0.85,0.85,0,1,0,-0.85,0M-0.5,0A0.5,0.5,0,1,0,0.5,0A0.5,0.5,0,1,0,-0.5,0M-0.15,0A0.15,0.15,0,1,0,0.15,0A0.15,0.15,0,1,0,-0.15,0M74,0",
              "M-7,0H7M-0.85,0A0.85,0.85,0,1,0,0.85,0A0.85,0.85,0,1,0,-0.85,0M-0.5,0A0.5,0.5,0,1,0,0.5,0A0.5,0.5,0,1,0,-0.5,0M-0.15,0A0.15,0.15,0,1,0,0.15,0A0.15,0.15,0,1,0,-0.15,0M74.01,0",
              "M-7,-0.3H7M-7,0H7M-7,0.3H7M74,0",
              "M-7,-0.3H7M-7,0H7M-7,0.3H7M74.01,0",
              "M-7,0H7M-0.85,0A0.85,0.85,0,1,0,0.85,0A0.85,0.85,0,1,0,-0.85,0M-0.5,0A0.5,0.5,0,1,0,0.5,0A0.5,0.5,0,1,0,-0.5,0M-0.15,0A0.15,0.15,0,1,0,0.15,0A0.15,0.15,0,1,0,-0.15,0M74.02,0"
            ]
          },
          "legend": {"title": null, "orient": "none", "legendX": 4, "legendY": -92}
        }
      }
    }
  ],
  "resolve": {
    "scale": {"y": "independent"},
    "axis": {"x": "independent", "y": "independent"}
  },
  "config": {
    "view": {"stroke": "black", "strokeWidth": 2.5},
    "axis": {
      "domain": false,
      "grid": false,
      "tickColor": "black",
      "tickWidth": 1.3,
      "labelFont": "Liberation Sans",
      "labelFontSize": 25,
      "labelColor": "black",
      "labelOverlap": false,
      "labelFlush": false,
      "labelBound": false,
      "titleFont": "Liberation Sans",
      "titleFontSize": 47,
      "titleFontWeight": "normal",
      "titleColor": "black"
    },
    "legend": {
      "padding": 10,
      "strokeColor": "#888888",
      "fillColor": "white",
      "labelFont": "Liberation Sans",
      "labelFontSize": 24,
      "labelColor": "black",
      "labelLimit": 400,
      "symbolSize": 64,
      "symbolStrokeWidth": 1.3,
      "symbolFillColor": "transparent",
      "symbolOffset": 43,
      "labelOffset": 35,
      "rowPadding": 6.2
    }
  }
}
